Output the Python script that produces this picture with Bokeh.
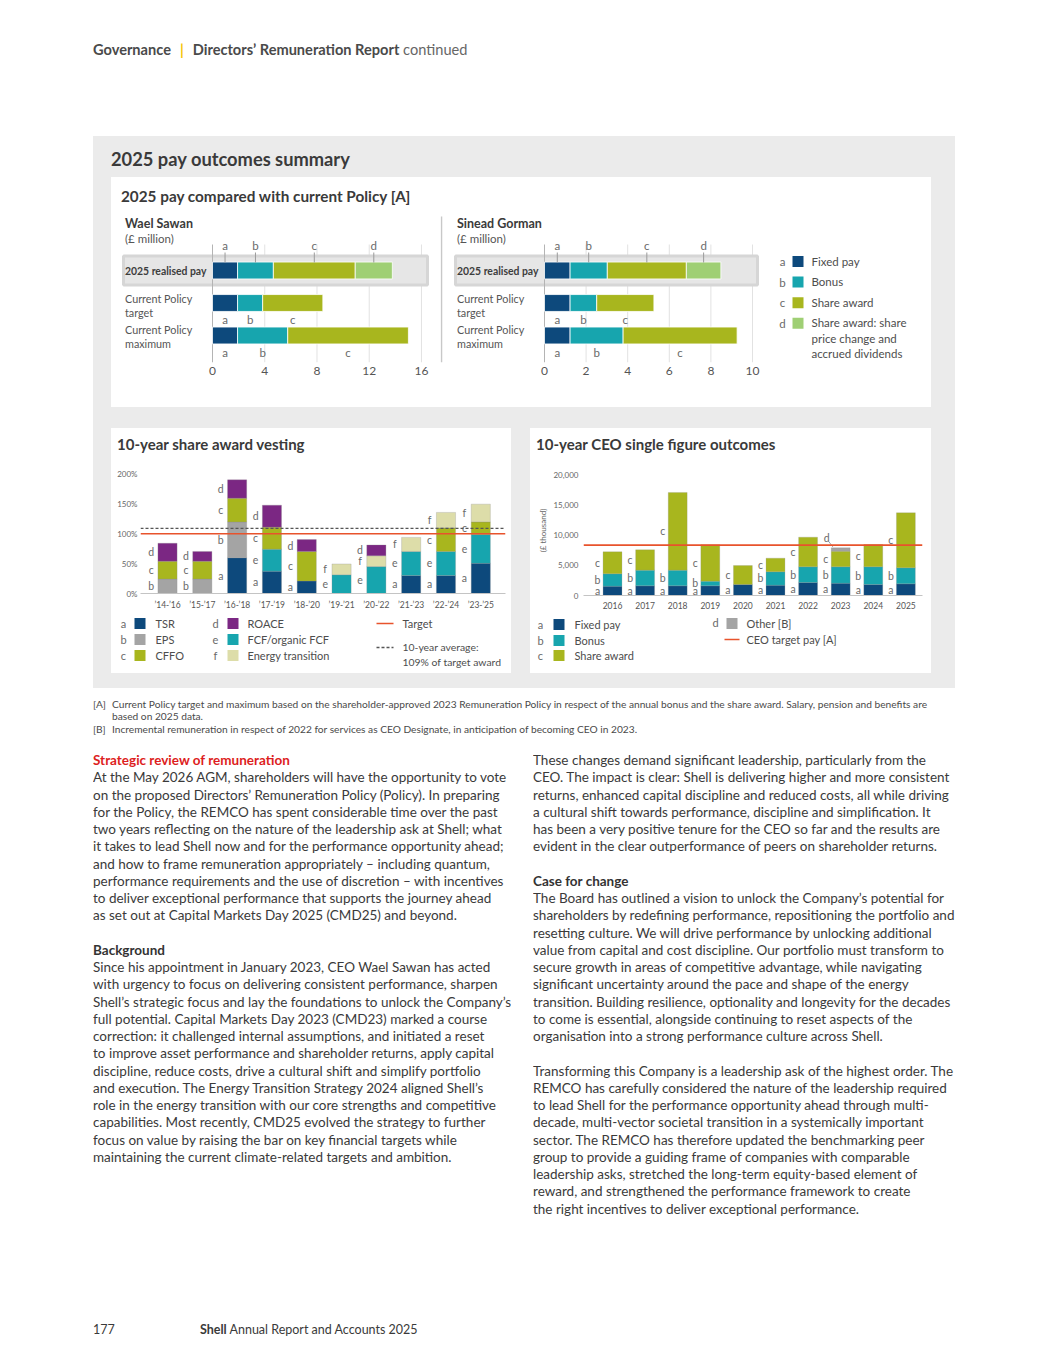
from bokeh.plotting import figure
from bokeh.layouts import row, column
from bokeh.models import (Range1d, FixedTicker, PrintfTickFormatter,
                          NumeralTickFormatter, Span, Div)
from bokeh.embed import file_html
from bokeh.resources import INLINE
from bokeh.core.properties import value

FONT = "Lato"
TXT = "#4a4a4a"
LET = "#6a6a6a"

# ------------------------------------------------------------------ data
pay_letters = ["a", "b", "c", "d"]
pay_legend = ["Fixed pay", "Bonus", "Share award",
              "Share award: share\nprice change and\naccrued dividends"]
pay_rows = ["2025 realised pay", "Current Policy\ntarget", "Current Policy\nmaximum"]
wael_realised = [1.92, 2.74, 6.27, 2.84]
wael_target = [1.92, 1.92, 4.61]
wael_maximum = [1.92, 3.84, 9.24]
wael_ticks = [0, 4, 8, 12, 16]
sinead_realised = [1.23, 1.79, 3.80, 1.66]
sinead_target = [1.23, 1.28, 2.75]
sinead_maximum = [1.23, 2.55, 5.48]
sinead_ticks = [0, 2, 4, 6, 8, 10]

vest_periods = ["’14-’16", "’15-’17", "’16-’18", "’17-’19", "’18-’20",
                "’19-’21", "’20-’22", "’21-’23", "’22-’24", "’23-’25"]
vest_letters = ["a", "b", "c", "d", "e", "f"]
vest_measures = ["TSR", "EPS", "CFFO", "ROACE", "FCF/organic FCF", "Energy transition"]
vest_tsr = [0, 0, 59.9, 37.4, 20.9, 0, 0, 30.2, 30.2, 50.5]
vest_eps = [24.2, 24.2, 59.9, 0, 0, 0, 0, 0, 0, 0]
vest_fcf = [0, 0, 0, 36.8, 0, 31.3, 45.0, 40.1, 40.1, 48.4]
vest_cffo = [29.7, 29.7, 39.6, 36.8, 49.5, 0, 0, 0, 39.6, 20.9]
vest_energy = [0, 0, 0, 0, 0, 18.1, 18.1, 23.6, 25.8, 29.7]
vest_roace = [30.2, 16.5, 30.8, 36.8, 19.8, 0, 18.1, 0, 0, 0]
vest_target = 100
vest_average = 109
vest_ticks = [0, 50, 100, 150, 200]

ceo_years = ["2016", "2017", "2018", "2019", "2020",
             "2021", "2022", "2023", "2024", "2025"]
ceo_fixed = [1551, 1607, 1607, 1607, 1828, 1717, 2161, 2050, 1828, 1939]
ceo_bonus = [2050, 2604, 2604, 776, 0, 2216, 2604, 2715, 2936, 2659]
ceo_share = [3657, 3380, 12909, 6039, 3158, 2271, 4931, 2604, 3712, 9141]
ceo_other = [0, 0, 0, 0, 0, 0, 0, 554, 0, 0]
ceo_target = 8370
ceo_ticks = [0, 5000, 10000, 15000, 20000]
ceo_letters = ["a", "b", "c", "d"]
ceo_legend = ["Fixed pay", "Bonus", "Share award", "Other [B]"]

# ------------------------------------------------------------------ colours
FIXED = "#0d497c"
BONUS = "#17a5ae"
SHARE = "#a8b61e"
SHARE_D = "#9fcf74"
GREY = "#a4a4a4"
ROACE = "#7b2783"
ENERGY = "#dddda9"
TARGET = "#e8532c"
PANEL = "#ebebeb"
YEL = "#f6c400"
PAY_COLORS = [FIXED, BONUS, SHARE, SHARE_D]
VEST_COLORS = {"a": FIXED, "b": GREY, "c": SHARE, "d": ROACE, "e": BONUS, "f": ENERGY}
CEO_COLORS = [FIXED, BONUS, SHARE, GREY]


def fig(w, h, xr, yr, **kw):
    p = figure(width=w, height=h, x_range=xr, y_range=yr,
               output_backend="svg", toolbar_location=None, **kw)
    p.outline_line_color = None
    p.background_fill_color = "white"
    p.border_fill_color = "white"
    p.xgrid.visible = False
    p.ygrid.visible = False
    return p


def no_align(p):
    if "frame_align" in p.properties():
        p.frame_align = False
    return p


def style_axis(ax, size, color="#555555", standoff=3):
    ax.axis_line_color = None
    ax.major_tick_line_color = None
    ax.minor_tick_line_color = None
    ax.major_tick_out = 0
    ax.major_tick_in = 0
    ax.minor_tick_out = 0
    ax.minor_tick_in = 0
    ax.major_label_text_font = FONT
    ax.major_label_text_font_size = size
    ax.major_label_text_color = color
    ax.major_label_standoff = standoff


def txt(p, x, y, t, size="11px", color=TXT, align="left", base="middle",
        style="normal", lh=1.2):
    p.text(x=x, y=y, text=t, text_font=value(FONT), text_font_size=size,
           text_color=color, text_align=align, text_baseline=base,
           text_font_style=style, text_line_height=lh)


# ------------------------------------------------------------------ pay charts
def pay_chart(name, realised, target, maximum, ticks, w, left_px, zero_px,
              unit_px, band_px, sep_px=None):
    def xx(px):
        return (px - zero_px) / unit_px

    def yy(px):
        return 1 + (335 - px) / 32.5

    p = fig(w, 197, Range1d(xx(left_px), xx(left_px + w)), Range1d(yy(362), yy(210)),
            y_axis_location=None, min_border_left=0, min_border_right=0,
            min_border_top=0, min_border_bottom=45)
    ax = p.xaxis[0]
    ax.ticker = FixedTicker(ticks=ticks)
    style_axis(ax, "12px", standoff=4)

    if sep_px is not None:
        p.segment(x0=[xx(sep_px)], y0=[yy(362)], x1=[xx(sep_px)], y1=[yy(216)],
                  line_color="#c8c8c8", line_width=1.5)
    # grid
    p.segment(x0=ticks[1:], y0=[yy(362)] * (len(ticks) - 1), x1=ticks[1:],
              y1=[yy(244)] * (len(ticks) - 1), line_color="#e2e2e2", line_width=1)
    # highlight band for realised pay
    p.quad(left=[xx(band_px[0])], right=[xx(band_px[1])], bottom=[3 - 0.445],
           top=[3 + 0.445], fill_color="#e6e6e6", line_color="#d6d6d6", line_width=3)
    p.segment(x0=[0], y0=[yy(362)], x1=[0], y1=[yy(244)], line_color="#b4b4b4", line_width=1)

    rows = [(3, realised), (2, target), (1, maximum)]
    mids = {}
    for yrow, vals in rows:
        left = 0
        ms = []
        for k, v in enumerate(vals):
            p.hbar(y=[yrow], left=[left], right=[left + v], height=0.52,
                   fill_color=PAY_COLORS[k], line_color="white", line_width=0.8)
            ms.append(left + v / 2)
            left += v
        mids[yrow] = ms
    # letters
    n = len(realised)
    p.segment(x0=mids[3], y0=[yy(252)] * n, x1=mids[3], y1=[yy(262)] * n,
              line_color="#9a9a9a", line_width=1)
    txt(p, mids[3], [yy(245)] * n, pay_letters[:n], size="11.5px", color=LET, align="center")
    txt(p, mids[2], [yy(319)] * len(target), pay_letters[:len(target)], size="11.5px",
        color=LET, align="center")
    txt(p, mids[1], [yy(352)] * len(maximum), pay_letters[:len(maximum)], size="11.5px",
        color=LET, align="center")
    # category labels
    lx = xx(band_px[0] + 1.5)
    txt(p, [lx], [yy(270.5)], [pay_rows[0]], size="10.4px", color="#3d3d3d", style="bold")
    txt(p, [lx, lx], [yy(291), yy(322)], pay_rows[1:], size="10.8px", color="#555555",
        base="top", lh=1.08)
    # titles
    txt(p, [lx], [yy(223)], [name], size="12.5px", color="#3a3a3a", style="bold")
    txt(p, [lx], [yy(238)], ["(£ million)"], size="11.5px", color="#555555")
    return p


p1 = pay_chart("Wael Sawan", wael_realised, wael_target, wael_maximum, wael_ticks,
               329, 111, 212, 13.06, (123, 427))
p2 = pay_chart("Sinead Gorman", sinead_realised, sinead_target, sinead_maximum,
               sinead_ticks, 330, 440, 544, 20.8, (455, 757), sep_px=441)

# legend for pay charts (pixel offsets from the box's top-left; same borders as the charts)
pl = fig(161, 197, Range1d(0, 161), Range1d(152, 0), x_axis_location=None,
         y_axis_location=None, min_border_left=0, min_border_right=0,
         min_border_top=0, min_border_bottom=45)
ly = [51 + 20.6 * i for i in range(4)]
pl.rect(x=[27.5] * 4, y=ly, width=11, height=11, fill_color=PAY_COLORS, line_color=None)
txt(pl, [12] * 4, ly, pay_letters, size="11.5px", color=LET, align="center")
txt(pl, [41] * 4, [v - 7 for v in ly], pay_legend, size="11.5px", color="#4d4d4d",
    base="top", lh=1.2)

# ------------------------------------------------------------------ vesting chart
vest_series = {"a": vest_tsr, "b": vest_eps, "e": vest_fcf, "c": vest_cffo,
               "f": vest_energy, "d": vest_roace}
stack_order = ["a", "b", "e", "c", "f", "d"]

pv = fig(400, 152, Range1d(-0.776, 9.71), Range1d(0, 214.2),
         min_border_left=29, min_border_right=6, min_border_top=5, min_border_bottom=17)
xs, bots, tops, cols, lx_, ly_, lt_ = [], [], [], [], [], [], []
for i in range(len(vest_periods)):
    b = 0
    for key in stack_order:
        v = vest_series[key][i]
        if v > 0:
            xs.append(i); bots.append(b); tops.append(b + v); cols.append(VEST_COLORS[key])
            lx_.append(i - 0.47); ly_.append(b + v / 2); lt_.append(key)
            b += v
pv.vbar(x=xs, bottom=bots, top=tops, width=0.55, fill_color=cols,
        line_color="#8c8c8c", line_width=0.4, line_alpha=0.7)
txt(pv, lx_, ly_, lt_, size="10.5px", color=LET, align="center")
pv.add_layout(Span(location=vest_target, dimension="width", line_color=TARGET, line_width=1.6))
pv.add_layout(Span(location=vest_average, dimension="width", line_color="#555555",
                   line_width=1.3, line_dash="3 2"))
ya = pv.yaxis[0]
ya.ticker = FixedTicker(ticks=vest_ticks)
ya.formatter = PrintfTickFormatter(format="%d%%")
style_axis(ya, "8px", color="#666666", standoff=3)
xa = pv.xaxis[0]
xa.ticker = FixedTicker(ticks=list(range(len(vest_periods))))
xa.major_label_overrides = {i: s for i, s in enumerate(vest_periods)}
style_axis(xa, "8.5px", standoff=6)
xa.axis_line_color = "#c4c4c4"

# legend for vesting chart
lv = no_align(fig(400, 61, Range1d(0, 400), Range1d(61, 0), x_axis_location=None,
                  y_axis_location=None, min_border=0))
vy = [11, 27, 43]
col1 = ["a", "b", "c"]
col2 = ["d", "e", "f"]
lv.rect(x=[28.5] * 3, y=vy, width=11, height=11,
        fill_color=[VEST_COLORS[k] for k in col1], line_color=None)
lv.rect(x=[121.5] * 3, y=vy, width=11, height=11,
        fill_color=[VEST_COLORS[k] for k in col2], line_color=None)
txt(lv, [12] * 3, vy, col1, size="11px", color=LET, align="center")
txt(lv, [104] * 3, vy, col2, size="11px", color=LET, align="center")
txt(lv, [44] * 3, vy, vest_measures[:3], size="11px", color="#4d4d4d")
txt(lv, [136] * 3, vy, vest_measures[3:], size="11px", color="#4d4d4d")
lv.segment(x0=[265], y0=[11], x1=[282], y1=[11], line_color=TARGET, line_width=1.6)
lv.segment(x0=[265], y0=[35], x1=[282], y1=[35], line_color="#555555", line_width=1.4,
           line_dash="3 2")
txt(lv, [291], [11], ["Target"], size="11px", color="#4d4d4d")
txt(lv, [291], [28], ["10-year average:\n109% of target award"], size="10.4px",
    color="#4d4d4d", base="top", lh=1.3)

# ------------------------------------------------------------------ CEO chart
pc = fig(401, 152, Range1d(-0.89, 9.51), Range1d(0, 21595),
         min_border_left=53, min_border_right=9, min_border_top=5, min_border_bottom=17)
ceo_series = [ceo_fixed, ceo_bonus, ceo_share, ceo_other]
xs, bots, tops, cols, lx_, ly_, lt_ = [], [], [], [], [], [], []
dx, dy = [], []
for i in range(len(ceo_years)):
    b = 0
    for k, ser in enumerate(ceo_series):
        v = ser[i]
        if v > 0:
            xs.append(i); bots.append(b); tops.append(b + v); cols.append(CEO_COLORS[k])
            if ceo_letters[k] == "d":
                dx.append(i); dy.append(b + v)
            else:
                lx_.append(i - 0.46); ly_.append(b + v / 2); lt_.append(ceo_letters[k])
            b += v
pc.vbar(x=xs, bottom=bots, top=tops, width=0.58, fill_color=cols,
        line_color="#8c8c8c", line_width=0.4, line_alpha=0.6)
txt(pc, lx_, ly_, lt_, size="10.5px", color=LET, align="center")
txt(pc, [x - 0.43 for x in dx], [y + 1650 for y in dy], ["d"] * len(dx), size="10.5px",
    color=LET, align="center")
pc.segment(x0=[x - 0.36 for x in dx], y0=[y + 1000 for y in dy],
           x1=[x - 0.24 for x in dx], y1=[y + 150 for y in dy],
           line_color="#8a8a8a", line_width=0.8)
pc.add_layout(Span(location=ceo_target, dimension="width", line_color=TARGET, line_width=1.6))
ya = pc.yaxis[0]
ya.ticker = FixedTicker(ticks=ceo_ticks)
ya.formatter = NumeralTickFormatter(format="0,0")
style_axis(ya, "8px", color="#666666", standoff=5)
ya.axis_label = "(£ thousand)"
ya.axis_label_text_font = FONT
ya.axis_label_text_font_size = "8px"
ya.axis_label_text_font_style = "normal"
ya.axis_label_text_color = "#666666"
ya.axis_label_standoff = 2
xa = pc.xaxis[0]
xa.ticker = FixedTicker(ticks=list(range(len(ceo_years))))
xa.major_label_overrides = {i: s for i, s in enumerate(ceo_years)}
style_axis(xa, "8.5px", standoff=6)
xa.axis_line_color = "#c4c4c4"

# legend for CEO chart
lc = no_align(fig(401, 61, Range1d(0, 401), Range1d(61, 0), x_axis_location=None,
                  y_axis_location=None, min_border=0))
cy = [12, 28, 43]
lc.rect(x=[28.5] * 3, y=cy, width=11, height=11, fill_color=CEO_COLORS[:3], line_color=None)
txt(lc, [10] * 3, cy, ceo_letters[:3], size="11px", color=LET, align="center")
txt(lc, [44] * 3, cy, ceo_legend[:3], size="11px", color="#4d4d4d")
lc.rect(x=[201.5], y=[11], width=11, height=11, fill_color=[CEO_COLORS[3]], line_color=None)
txt(lc, [185], [10], ["d"], size="11px", color=LET, align="center")
txt(lc, [216], [11], [ceo_legend[3]], size="11px", color="#4d4d4d")
lc.segment(x0=[194], y0=[27], x1=[209], y1=[27], line_color=TARGET, line_width=1.6)
txt(lc, [216], [27], ["CEO target pay [A]"], size="11px", color="#4d4d4d")


# ------------------------------------------------------------------ page blocks
def box(w, h, bg, html="", style=""):
    return Div(text=(f'<div style="width:{w}px;height:{h}px;background:{bg};'
                     f'box-sizing:border-box;overflow:hidden;font-family:{FONT};{style}">'
                     f'{html}</div>'), width=w, height=h, margin=0)


LM = 93  # left page margin of the printed page

header = box(1040, 133, "white",
             '<b>Governance</b><span style="color:#f6c400;font-weight:bold;margin:0 9px">|</span>'
             '<b>Directors’ Remuneration Report</b> <span style="color:#666">continued</span>',
             f"padding:42px 0 0 {LM}px;font-size:14.6px;line-height:16px;color:#4a4a4a;white-space:nowrap")

pay_title = box(820, 30, "white", "2025 pay compared with current Policy [A]",
                "padding:8px 0 0 10px;font-size:15.3px;font-weight:bold;line-height:16px;color:#3a3a3a;white-space:nowrap")
white_top = column(box(820, 3, YEL), pay_title, row(p1, p2, pl, spacing=0), spacing=0)
pay_row = row(box(18, 230, PANEL), white_top, box(24, 230, PANEL), spacing=0)

tstyle = ("padding:5px 0 0 6px;font-size:15px;font-weight:bold;line-height:16px;"
          "color:#3a3a3a;white-space:nowrap")
left_col = column(column(box(400, 3, YEL),
                         box(400, 29, "white", "10-year share award vesting", tstyle),
                         pv, spacing=0),
                  column(lv, spacing=0), spacing=0)
right_col = column(column(box(401, 3, YEL),
                          box(401, 29, "white", "10-year CEO single figure outcomes", tstyle),
                          pc, spacing=0),
                   column(lc, spacing=0), spacing=0)
lower_row = row(box(18, 245, PANEL), left_col, box(19, 245, PANEL), right_col,
                box(24, 245, PANEL), spacing=0)

panel = column(box(862, 3, YEL),
               box(862, 41, PANEL, "2025 pay outcomes summary",
                   "padding:12px 0 0 18px;font-size:18.3px;font-weight:bold;line-height:22px;"
                   "color:#3a3a3a;white-space:nowrap"),
               pay_row, box(862, 21, PANEL), lower_row, box(862, 15, PANEL), spacing=0)
panel_row = row(box(LM, 555, "white"), panel, box(85, 555, "white"), spacing=0)

fn_html = ('<div style="display:flex"><span style="width:19px;flex:none">[A]</span><span>'
           'Current Policy target and maximum based on the shareholder-approved 2023 Remuneration '
           'Policy in respect of the annual bonus and the share award. Salary, pension and benefits are'
           '<br>based on 2025 data.</span></div>'
           '<div style="display:flex;margin-top:2px"><span style="width:19px;flex:none">[B]</span><span>'
           'Incremental remuneration in respect of 2022 for services as CEO Designate, in anticipation '
           'of becoming CEO in 2023.</span></div>')
footnotes = box(1040, 54, "white", fn_html,
                f"padding:11px 0 0 {LM}px;font-size:10.2px;line-height:11.5px;color:#4a4a4a;white-space:nowrap")

left_lines = [
    ("h-red", "Strategic review of remuneration"),
    ("", "At the May 2026 AGM, shareholders will have the opportunity to vote"),
    ("", "on the proposed Directors’ Remuneration Policy (Policy). In preparing"),
    ("", "for the Policy, the REMCO has spent considerable time over the past"),
    ("", "two years reflecting on the nature of the leadership ask at Shell; what"),
    ("", "it takes to lead Shell now and for the performance opportunity ahead;"),
    ("", "and how to frame remuneration appropriately – including quantum,"),
    ("", "performance requirements and the use of discretion – with incentives"),
    ("", "to deliver exceptional performance that supports the journey ahead"),
    ("", "as set out at Capital Markets Day 2025 (CMD25) and beyond."),
    ("", "&nbsp;"),
    ("h", "Background"),
    ("", "Since his appointment in January 2023, CEO Wael Sawan has acted"),
    ("", "with urgency to focus on delivering consistent performance, sharpen"),
    ("", "Shell’s strategic focus and lay the foundations to unlock the Company’s"),
    ("", "full potential. Capital Markets Day 2023 (CMD23) marked a course"),
    ("", "correction: it challenged internal assumptions, and initiated a reset"),
    ("", "to improve asset performance and shareholder returns, apply capital"),
    ("", "discipline, reduce costs, drive a cultural shift and simplify portfolio"),
    ("", "and execution. The Energy Transition Strategy 2024 aligned Shell’s"),
    ("", "role in the energy transition with our core strengths and competitive"),
    ("", "capabilities. Most recently, CMD25 evolved the strategy to further"),
    ("", "focus on value by raising the bar on key financial targets while"),
    ("", "maintaining the current climate-related targets and ambition."),
]
right_lines = [
    ("", "These changes demand significant leadership, particularly from the"),
    ("", "CEO. The impact is clear: Shell is delivering higher and more consistent"),
    ("", "returns, enhanced capital discipline and reduced costs, all while driving"),
    ("", "a cultural shift towards performance, discipline and simplification. It"),
    ("", "has been a very positive tenure for the CEO so far and the results are"),
    ("", "evident in the clear outperformance of peers on shareholder returns."),
    ("", "&nbsp;"),
    ("h", "Case for change"),
    ("", "The Board has outlined a vision to unlock the Company’s potential for"),
    ("", "shareholders by redefining performance, repositioning the portfolio and"),
    ("", "resetting culture. We will drive performance by unlocking additional"),
    ("", "value from capital and cost discipline. Our portfolio must transform to"),
    ("", "secure growth in areas of competitive advantage, while navigating"),
    ("", "significant uncertainty around the pace and shape of the energy"),
    ("", "transition. Building resilience, optionality and longevity for the decades"),
    ("", "to come is essential, alongside continuing to reset aspects of the"),
    ("", "organisation into a strong performance culture across Shell."),
    ("", "&nbsp;"),
    ("", "Transforming this Company is a leadership ask of the highest order. The"),
    ("", "REMCO has carefully considered the nature of the leadership required"),
    ("", "to lead Shell for the performance opportunity ahead through multi-"),
    ("", "decade, multi-vector societal transition in a systemically important"),
    ("", "sector. The REMCO has therefore updated the benchmarking peer"),
    ("", "group to provide a guiding frame of companies with comparable"),
    ("", "leadership asks, stretched the long-term equity-based element of"),
    ("", "reward, and strengthened the performance framework to create"),
    ("", "the right incentives to deliver exceptional performance."),
]


def para(lines):
    out = []
    for kind, t in lines:
        if kind == "h-red":
            out.append(f'<div style="font-weight:bold;color:#dd1d21">{t}</div>')
        elif kind == "h":
            out.append(f'<div style="font-weight:bold;color:#333">{t}</div>')
        else:
            out.append(f'<div>{t}</div>')
    return "".join(out)


pstyle = "padding-top:10px;font-size:13.5px;line-height:17.25px;color:#3a3a3a;white-space:nowrap"
text_row = row(box(LM, 483, "white"), box(418, 483, "white", para(left_lines), pstyle),
               box(22, 483, "white"), box(422, 483, "white", para(right_lines), pstyle),
               box(85, 483, "white"), spacing=0)

footer = box(1040, 132, "white",
             '<span style="display:inline-block;width:107px">177</span>'
             '<b>Shell</b> Annual Report and Accounts 2025',
             f"padding:97px 0 0 {LM}px;font-size:12.5px;line-height:16px;color:#3a3a3a;white-space:nowrap")

page = column(header, panel_row, footnotes, text_row, footer, spacing=0)

open("out.html", "w").write(file_html(page, INLINE))
